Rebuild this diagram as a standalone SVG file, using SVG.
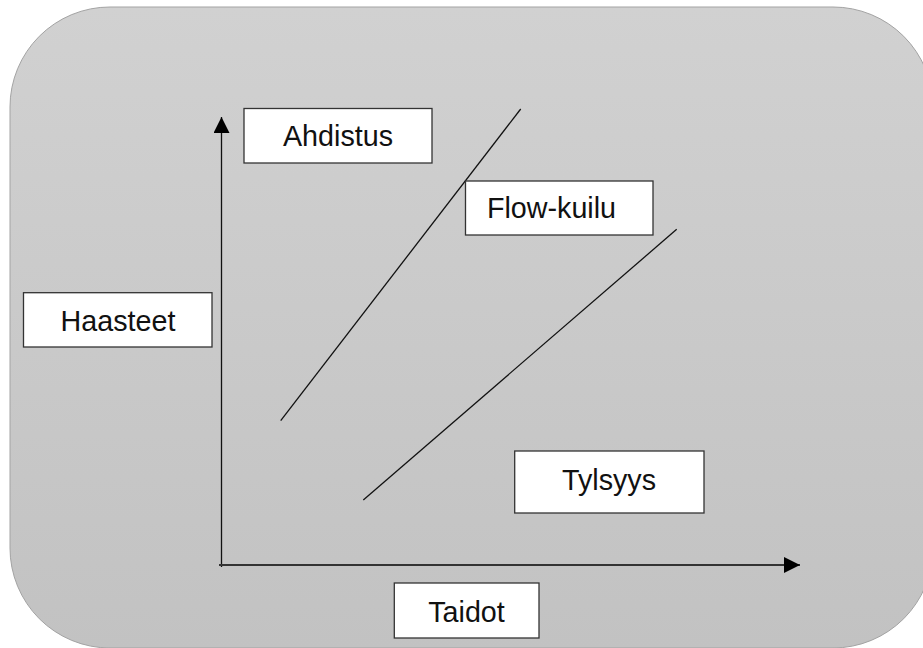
<svg xmlns="http://www.w3.org/2000/svg" width="923" height="648" viewBox="0 0 923 648">
<defs>
<linearGradient id="bg" x1="0" y1="0" x2="0" y2="1">
<stop offset="0" stop-color="#d1d1d1"/>
<stop offset="1" stop-color="#c2c2c2"/>
</linearGradient>
<marker id="arr" viewBox="0 0 16 16" refX="16" refY="8" markerWidth="16" markerHeight="16" markerUnits="userSpaceOnUse" orient="auto">
<path d="M0,0 L16,8 L0,16 Z" fill="#000"/>
</marker>
<style>
.box{fill:#fff;stroke:#333;stroke-width:1.3}
.lbl{font-family:"Liberation Sans",Arial,sans-serif;font-size:28.7px;fill:#111;text-anchor:middle}
.ln{stroke:#111;stroke-width:1.3;fill:none}
.ax{stroke:#333;stroke-width:1.8;fill:none}
</style>
</defs>
<rect x="10" y="7" width="923" height="641" rx="100" ry="100" fill="url(#bg)" stroke="#a3a3a3" stroke-width="1"/>
<g id="connectors">
<line class="ln" x1="280.7" y1="420.7" x2="520.7" y2="109"/>
<line class="ln" x1="363.3" y1="500" x2="676.7" y2="229.3"/>
<line class="ln" x1="221.5" y1="567" x2="221.5" y2="117" marker-end="url(#arr)"/>
<line class="ax" x1="219" y1="565" x2="800" y2="565" marker-end="url(#arr)"/>
</g>
<g id="ahdistus">
<rect class="box" x="244" y="108.5" width="188" height="54.5"/>
<text class="lbl" x="338" y="146">Ahdistus</text>
</g>
<g id="flow-kuilu">
<rect class="box" x="465.5" y="181" width="187.5" height="54"/>
<text class="lbl" x="551.5" y="217.5">Flow-kuilu</text>
</g>
<g id="haasteet">
<rect class="box" x="23.5" y="292.7" width="188.5" height="54.3"/>
<text class="lbl" x="118" y="330.5">Haasteet</text>
</g>
<g id="tylsyys">
<rect class="box" x="514.7" y="451" width="189.3" height="62"/>
<text class="lbl" x="609" y="489.5">Tylsyys</text>
</g>
<g id="taidot">
<rect class="box" x="394.3" y="583" width="144.7" height="55"/>
<text class="lbl" x="466.5" y="622">Taidot</text>
</g>
</svg>
